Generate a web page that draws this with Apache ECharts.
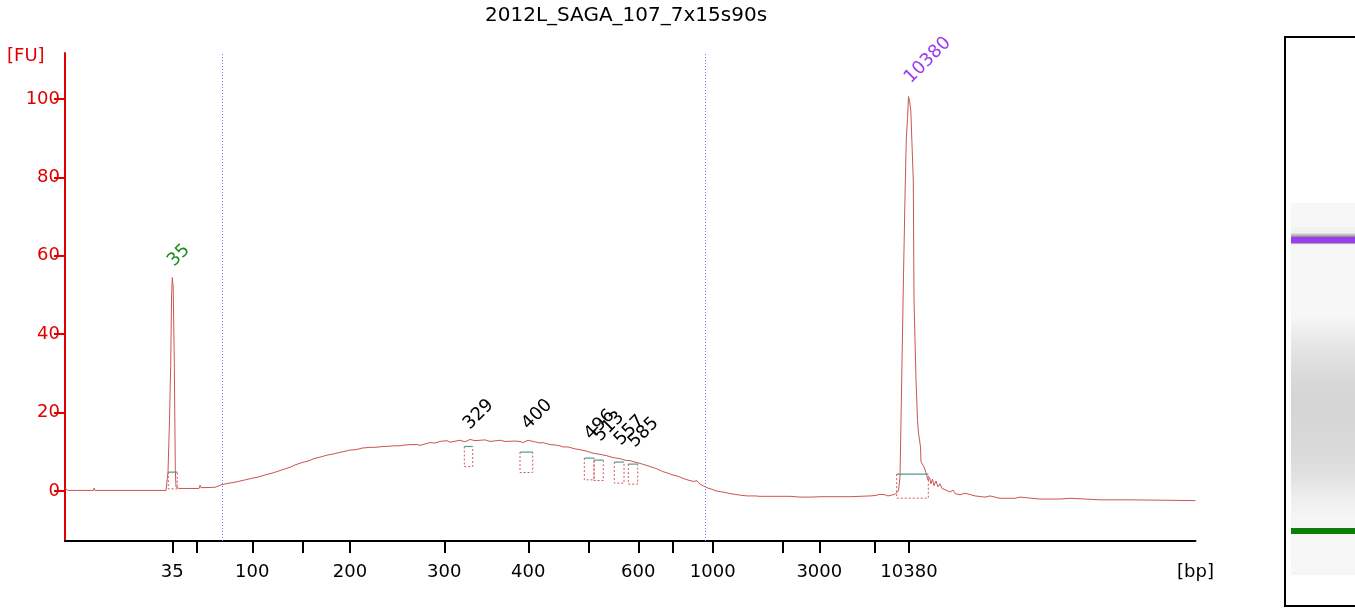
<!DOCTYPE html>
<html>
<head>
<meta charset="utf-8">
<script src="https://cdn.jsdelivr.net/npm/echarts@6/dist/echarts.min.js"></script>
<style>
html,body{margin:0;padding:0;background:#fff;}
#chart{width:1355px;height:609px;}
</style>
</head>
<body>
<div id="chart"></div>
<script>
// ---------------- DATA ----------------
const chartTitle = '2012L_SAGA_107_7x15s90s';
const yName = '[FU]';
const xName = '[bp]';

// migration position (arbitrary units) and fluorescence [FU]
const trace = [
[0,0.8],[1.5,0.8],[2.5,0.1],[28.5,0.1],[29,0.7],[30,0.1],[101,0.1],[102,0.6],[103,4.8],[104.5,18],[105.7,32],[106.6,50],[107.3,54.4],[108.2,52],[109.3,32.7],[110.3,5.4],[111,1.0],[114,0.6],[134,0.6],[135,1.4],[136,0.8],[150,0.9],[151,1.4],[152,1.1],[157,1.6],[165,2.0],[172,2.3],[175,2.5],[182,2.9],[187,3.2],[193,3.5],[195,3.8],[202,4.2],[207,4.5],[213,5.0],[220,5.6],[226,6.1],[230,6.6],[237,7.2],[243,7.6],[250,8.3],[255,8.6],[262,9.1],[268,9.4],[275,9.8],[285,10.4],[291,10.5],[297,10.9],[305,11.1],[310,11.1],[318,11.3],[325,11.4],[330,11.5],[335,11.5],[340,11.7],[347,11.8],[352,11.8],[355,11.6],[357,11.9],[365,12.3],[370,12.2],[375,12.6],[382,12.8],[385,12.4],[387,12.8],[395,12.9],[400,12.5],[402,12.9],[405,13.1],[410,12.8],[412,13.0],[420,13.0],[425,12.6],[427,13.0],[435,12.9],[440,12.6],[442,12.9],[450,12.7],[455,12.6],[458,12.3],[460,12.7],[463,12.9],[465,12.4],[470,12.5],[475,12.2],[478,12.3],[485,11.8],[490,11.7],[495,11.5],[498,11.2],[503,11.2],[510,10.7],[515,10.5],[522,10.1],[528,9.6],[535,9.3],[541,9.0],[548,8.5],[555,8.2],[560,7.8],[565,7.7],[572,7.2],[579,6.7],[585,6.2],[592,5.6],[598,4.9],[603,4.5],[607,4.1],[612,3.8],[615,3.5],[620,3.0],[625,2.6],[629,2.4],[632,2.6],[634,1.9],[638,1.3],[643,0.7],[647,0.4],[651,0.0],[655,-0.2],[660,-0.4],[665,-0.7],[670,-0.9],[675,-1.1],[682,-1.3],[690,-1.3],[695,-1.4],[705,-1.4],[707,-1.0],[709,-1.4],[715,-1.4],[725,-1.4],[735,-1.6],[745,-1.6],[755,-1.5],[769,-1.5],[770,-1.1],[772,-1.5],[785,-1.5],[795,-1.4],[805,-1.3],[810,-1.2],[815,-0.9],[817,-1.2],[820,-1.0],[823,-1.3],[825,-1.1],[830,-0.9],[832,-0.6],[833.5,0.0],[835,3.6],[836.7,28],[838.5,55],[840,75],[841.3,90],[842.5,95],[843.5,100.6],[844,101.1],[844.8,99],[845.8,97],[847.5,96.5],[848.3,79],[849,48.8],[851,28.3],[852.5,18],[853.5,14.8],[855.5,11.2],[856,7.4],[859,6.1],[861,4.6],[863,2.8],[864.5,3.4],[866,1.8],[867.5,3.0],[869,1.3],[871,2.5],[873,1.0],[875,1.8],[877,0.6],[880,0.3],[885,-0.3],[888,0.2],[890,-0.7],[895,-1.0],[900,-0.6],[902,-1.1],[910,-1.3],[920,-1.6],[925,-1.3],[927,-1.7],[935,-1.9],[950,-1.9],[955,-1.6],[957,-2.0],[975,-2.1],[995,-2.1],[1005,-1.9],[1007,-2.2],[1035,-2.3],[1065,-2.3],[1100,-2.4],[1101,-2.1],[1102,-2.4],[1130.5,-2.5]
];

// axis scale
const xMin = 0, xMax = 1130.5;
const yMin = -12.8, yMax = 111.7;
const xTickPos = [107.3,131.3,187.3,237.3,285,379.3,463.3,523.3,573.3,607.7,647.7,717.7,754.3,810,844];
const xLabelPos = [107.3,187.3,285,379.3,463.3,573.3,647.7,754.3,844];
const xLabelText = ['35','100','200','300','400','600','1000','3000','10380'];
const yTickVals = [0,20,40,60,80,100];
const regionLines = [157, 640];

// peaks: size label, position, height [FU]
const peakSize = ['35','329','400','496','513','557','585','10380'];
const peakPos = [107.3,403,461.5,524,533.5,554,568,844];
const peakFU = [54.4,12.8,12.8,10.2,9.7,8.7,8.2,101.1];
const peakKind = ['lower','sample','sample','sample','sample','sample','sample','upper'];
// peak integration windows
const winStart = [103.3,399.3,455,519.3,529,549.3,563.3,831.7];
const winEnd   = [112.3,407.7,467.7,529,538.3,559,572.7,863.3];
const winLevel = [4.77,11.31,9.88,8.35,7.84,7.33,6.82,4.26];
const winFloor = [0.5,6.2,4.67,2.81,2.63,1.97,1.71,-1.86];

// gel lane range (migration position)
const gelLane = [-4, 938];
const gelMin = -80, gelMax = 1358;

// ---------------- STYLE ----------------
const FONT = 'DejaVu Sans';
const RED = '#e00000';
const kindColor = {lower:'#1f8a1f', sample:'#000000', upper:'#9b3cf0'};
const bandColor = {lower:'#0a7d0a', upper:'#9b3cf0'};

const chart = echarts.init(document.getElementById('chart'), null, {renderer:'canvas'});

function renderWindow(params, api){
  const s = api.value(0), e = api.value(1), lv = api.value(2), fl = api.value(3);
  const a = api.coord([s, lv]), b = api.coord([e, lv]);
  const c = api.coord([s, fl]), d = api.coord([e, fl]);
  return {type:'group', children:[
    {type:'polyline', shape:{points:[a,c,d,b]}, style:{stroke:'#d45555', lineWidth:1, lineDash:[2,2], fill:null}},
    {type:'line', shape:{x1:a[0], y1:a[1], x2:b[0], y2:b[1]}, style:{stroke:'#4f9a8c', lineWidth:1.2}}
  ]};
}
function renderPeakLabel(params, api){
  const i = params.dataIndex;
  const p = api.coord([api.value(0), api.value(1)]);
  return {type:'text', x:p[0]-1.5, y:p[1]-14, rotation:Math.PI/4,
    style:{text:peakSize[i], fill:kindColor[peakKind[i]], font:'18px "'+FONT+'"',
      align:'left', verticalAlign:'middle', textAlign:'left', textVerticalAlign:'middle'}};
}
function renderGelBg(params, api){
  const p0 = api.coord([0, api.value(2)]);
  const p1 = api.coord([1, api.value(1)]);
  return {type:'rect', shape:{x:p0[0], y:p0[1], width:p1[0]-p0[0], height:p1[1]-p0[1]}, style:{fill:'#f7f7f7'}};
}
function renderGelSmear(params, api){
  const i = params.dataIndex;
  const t = trace[i][0];
  const prev = i>0 ? trace[i-1][0] : t;
  const next = i<trace.length-1 ? trace[i+1][0] : t;
  const fu = trace[i][1];
  if (fu < 0.5) return null;
  const g = Math.max(140, Math.round(247 - fu*2.6));
  const p0 = api.coord([0, (t+next)/2]);
  const p1 = api.coord([1, (prev+t)/2]);
  return {type:'rect', shape:{x:p0[0], y:Math.floor(p0[1]), width:p1[0]-p0[0], height:Math.ceil(p1[1]-p0[1])+1},
    style:{fill:'rgb('+g+','+g+','+g+')'}};
}
function renderGelBand(params, api){
  const i = params.dataIndex;
  const p0 = api.coord([0, api.value(1)]);
  const p1 = api.coord([1, api.value(1)]);
  const kind = markerBands[i][2];
  const items = [{type:'rect', shape:{x:p0[0], y:p0[1]-3, width:p1[0]-p0[0], height:6}, style:{fill:bandColor[kind]}}];
  if (kind === 'upper') {
    items.unshift({type:'rect', shape:{x:p0[0], y:p0[1]-7, width:p1[0]-p0[0], height:4},
      style:{fill:{type:'linear', x:0, y:0, x2:0, y2:1, colorStops:[{offset:0, color:'#e8e8e8'},{offset:1, color:'#8a8a8a'}]}}});
  }
  return {type:'group', children:items};
}
const markerBands = peakKind.map((k,i)=>[0.5, peakPos[i], k]).filter(d=>d[2]!=='sample');

const option = {
  backgroundColor:'#ffffff',
  animation:false,
  title:{text:chartTitle, left:485, top:6, padding:0,
    textStyle:{fontFamily:FONT, fontSize:20, fontWeight:'normal', color:'#000'}},
  graphic:[
    {type:'text', left:7, top:47, style:{text:yName, fill:RED, font:'18px "'+FONT+'"'}},
    {type:'rect', shape:{x:1285, y:37, width:100, height:569}, style:{fill:'#ffffff', stroke:'#000', lineWidth:2}, z:-10}
  ],
  grid:[
    {left:65, right:159.5, top:53, bottom:68, outerBoundsMode:'none'},
    {left:1291, top:37, width:70, height:568, outerBoundsMode:'none'}
  ],
  xAxis:[
    {type:'value', gridIndex:0, min:xMin, max:xMax,
      axisLine:{show:true, onZero:false, lineStyle:{color:'#000', width:2}},
      axisTick:{show:true, customValues:xTickPos, length:12, inside:false, lineStyle:{color:'#000', width:2}},
      axisLabel:{show:true, customValues:xLabelPos.concat([xMax]), margin:22, color:'#000', fontSize:18, fontFamily:FONT,
        formatter:function(v){ if (Math.abs(v-xMax)<1e-6) return xName; const k = xLabelPos.findIndex(p=>Math.abs(p-v)<1e-6); return k>=0 ? xLabelText[k] : ''; }},
      splitLine:{show:false}},
    {type:'value', gridIndex:1, min:0, max:1, show:false}
  ],
  yAxis:[
    {type:'value', gridIndex:0, min:yMin, max:yMax,
      axisLine:{show:true, onZero:false, lineStyle:{color:RED, width:2}},
      axisTick:{show:true, customValues:yTickVals, length:11, inside:false, lineStyle:{color:RED, width:2}},
      axisLabel:{show:true, customValues:yTickVals, margin:5, color:RED, fontSize:18, fontFamily:FONT},
      splitLine:{show:false}},
    {type:'value', gridIndex:1, min:gelMin, max:gelMax, show:false}
  ],
  series:[
    {type:'line', name:'trace', xAxisIndex:0, yAxisIndex:0, data:trace, showSymbol:false, symbol:'none',
      lineStyle:{color:'#cc5555', width:1}, z:3, silent:true,
      markLine:{silent:true, symbol:['none','none'], label:{show:false},
        lineStyle:{type:[1,2], color:'#7d7de0', width:1},
        data:regionLines.map(v=>({xAxis:v, lineStyle:{color:'#7d7de0'}}))}},
    {type:'custom', name:'windows', xAxisIndex:0, yAxisIndex:0, renderItem:renderWindow, silent:true, z:4,
      encode:{x:[0,1], y:[2,3]},
      data:winStart.map((s,i)=>[s, winEnd[i], winLevel[i], winFloor[i]])},
    {type:'custom', name:'peakLabels', xAxisIndex:0, yAxisIndex:0, renderItem:renderPeakLabel, silent:true, z:5,
      encode:{x:0, y:1}, clip:false,
      data:peakPos.map((p,i)=>[p, peakFU[i]])},
    {type:'custom', name:'gelBg', xAxisIndex:1, yAxisIndex:1, renderItem:renderGelBg, silent:true, z:1,
      encode:{x:0, y:[1,2]}, data:[[0.5, gelLane[0], gelLane[1]]]},
    {type:'custom', name:'gelSmear', xAxisIndex:1, yAxisIndex:1, renderItem:renderGelSmear, silent:true, z:2,
      encode:{x:0, y:1}, data:trace.map(p=>[0.5, p[0]])},
    {type:'custom', name:'gelBands', xAxisIndex:1, yAxisIndex:1, renderItem:renderGelBand, silent:true, z:3,
      encode:{x:0, y:1}, data:markerBands.map(d=>[d[0], d[1]])}
  ]
};
chart.setOption(option);
</script>
</body>
</html>
